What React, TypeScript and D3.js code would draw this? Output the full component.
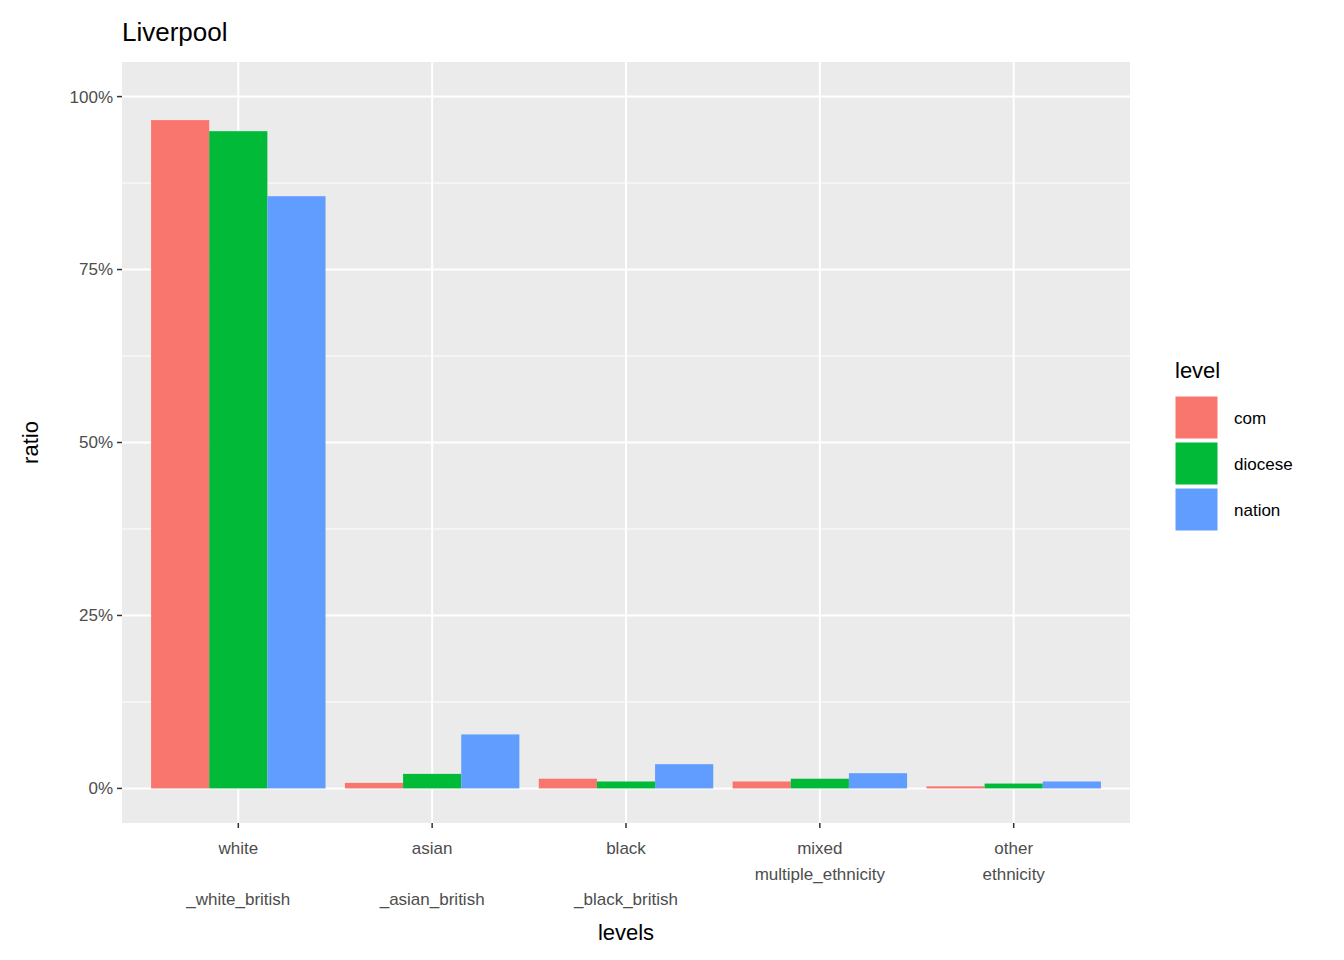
import React from "react";
import * as d3 from "d3";

const categories = ["white", "asian", "black", "mixed", "other"];
const categoryLabels = [["white", "", "_white_british"], ["asian", "", "_asian_british"], ["black", "", "_black_british"], ["mixed", "multiple_ethnicity"], ["other", "ethnicity"]];
const levels = ["com", "diocese", "nation"];
const colors = ["#F8766D", "#00BA38", "#619CFF"];
const comValues = [0.966, 0.008, 0.014, 0.010, 0.003];
const dioceseValues = [0.950, 0.021, 0.010, 0.014, 0.007];
const nationValues = [0.856, 0.078, 0.035, 0.022, 0.010];
const yTicks = [0, 0.25, 0.5, 0.75, 1];
const yMinor = [0.125, 0.375, 0.625, 0.875];

export default function App() {
  const L = 122, R = 1130, T = 62, B = 823;
  const series = [comValues, dioceseValues, nationValues];
  const y = d3.scaleLinear().domain([-0.05, 1.05]).range([B, T]);
  const step = (R - L) / (categories.length - 1 + 1.2);
  const x = (i: number) => L + step * (0.6 + i);
  const bw = step * 0.9;
  const sub = bw / 3;
  const font = "Arial, 'Liberation Sans', sans-serif";
  return (
    <svg width={1344} height={960} style={{ position: "absolute", left: 0, top: 0, fontFamily: font }}>
      <rect width={1344} height={960} fill="white" />
      <rect x={L} y={T} width={R - L} height={B - T} fill="#EBEBEB" />
      {yMinor.map(v => <line key={"m" + v} x1={L} x2={R} y1={y(v)} y2={y(v)} stroke="white" strokeWidth={1} />)}
      {yTicks.map(v => <line key={"M" + v} x1={L} x2={R} y1={y(v)} y2={y(v)} stroke="white" strokeWidth={2} />)}
      {categories.map((c, i) => <line key={c} x1={x(i)} x2={x(i)} y1={T} y2={B} stroke="white" strokeWidth={2} />)}
      {categories.map((c, i) =>
        series.map((s, j) => (
          <rect key={c + j} x={x(i) - bw / 2 + j * sub} width={sub} y={y(s[i])} height={y(0) - y(s[i])} fill={colors[j]} />
        ))
      )}
      {yTicks.map(v => (
        <g key={"t" + v}>
          <line x1={L - 5} x2={L} y1={y(v)} y2={y(v)} stroke="#333" strokeWidth={1.5} />
          <text x={L - 9} y={y(v)} dy="0.35em" textAnchor="end" fontSize={17} fill="#4D4D4D">{Math.round(v * 100) + "%"}</text>
        </g>
      ))}
      {categoryLabels.map((lines, i) => (
        <g key={"x" + i}>
          <line x1={x(i)} x2={x(i)} y1={B} y2={B + 5} stroke="#333" strokeWidth={1.5} />
          <text textAnchor="middle" fontSize={17} fill="#4D4D4D">
            {lines.map((l, k) => <tspan key={k} x={x(i)} y={854 + k * 25.5}>{l}</tspan>)}
          </text>
        </g>
      ))}
      <text x={(L + R) / 2} y={940} textAnchor="middle" fontSize={22} fill="black">levels</text>
      <text transform={`translate(38,${(T + B) / 2}) rotate(-90)`} textAnchor="middle" fontSize={22} fill="black">ratio</text>
      <text x={122} y={41} fontSize={26} fill="black">Liverpool</text>
      <text x={1175} y={378} fontSize={22} fill="black">level</text>
      {levels.map((l, j) => (
        <g key={l}>
          <rect x={1175} y={396 + j * 46} width={43} height={43} fill={colors[j]} stroke="white" strokeWidth={1} />
          <text x={1234} y={418 + j * 46} dy="0.35em" fontSize={17} fill="black">{l}</text>
        </g>
      ))}
    </svg>
  );
}
